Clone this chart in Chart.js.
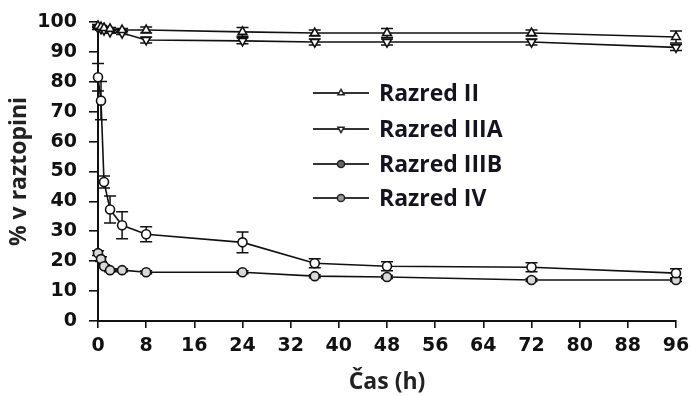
<!DOCTYPE html>
<html>
<head>
<meta charset="utf-8">
<script src="https://cdn.jsdelivr.net/npm/chart.js@4.4.1/dist/chart.umd.min.js"></script>
<style>
  html, body { margin: 0; padding: 0; background: #fff; }
  #wrap { width: 691px; height: 396px; position: relative; }
</style>
</head>
<body>
<div id="wrap"><canvas id="c"></canvas></div>
<script>
// Sampling times (h)
const times = [0, 0.5, 1, 2, 4, 8, 24, 36, 48, 72, 96];

// Percent in solution for each class, with standard deviations
const seriesNames = ['Razred II', 'Razred IIIA', 'Razred IIIB', 'Razred IV'];
const razredII    = [98.7, 98.3, 98.0, 97.7, 97.3, 97.3, 96.7, 96.3, 96.3, 96.3, 95.0];
const razredIIIA  = [98.0, 97.7, 97.3, 96.7, 96.3, 94.0, 93.7, 93.3, 93.3, 93.3, 91.5];
const razredIIIB  = [81.5, 73.7, 46.5, 37.3, 32.0, 29.0, 26.3, 19.3, 18.3, 18.0, 16.0];
const razredIV    = [22.7, 20.7, 18.3, 17.0, 17.0, 16.3, 16.3, 15.0, 14.7, 13.7, 13.7];

const errII   = [0.5, 0.5, 0.5, 0.5, 0.5, 1.0, 1.5, 1.0, 1.5, 1.0, 2.0];
const errIIIA = [0.5, 0.5, 0.5, 0.5, 0.5, 1.0, 1.0, 1.0, 1.0, 1.0, 1.0];
const errIIIB = [4.6, 6.4, 2.0, 4.5, 4.5, 2.5, 3.5, 1.5, 1.5, 1.5, 1.5];
const errIV   = [0.8, 0.8, 0.5, 0.5, 0.5, 0.5, 0.5, 0.5, 0.5, 0.5, 0.5];

// Axis ticks
const xTicks = [0, 8, 16, 24, 32, 40, 48, 56, 64, 72, 80, 88, 96];
const yTicks = [0, 10, 20, 30, 40, 50, 60, 70, 80, 90, 100];

const pts = (vals) => times.map((t, i) => ({ x: t, y: vals[i] }));

const markerStyles = [
  { pointStyle: 'triangle', rotation: 0,   radius: 5, fill: '#ffffff' },
  { pointStyle: 'triangle', rotation: 180, radius: 5, fill: '#ffffff' },
  { pointStyle: 'circle',   rotation: 0,   radius: 4.5, fill: '#ffffff' },
  { pointStyle: 'circle',   rotation: 0,   radius: 4.5, fill: '#d8d8d8' }
];
const allValues = [razredII, razredIIIA, razredIIIB, razredIV];
const allErrors = [errII, errIIIA, errIIIB, errIV];

const datasets = allValues.map((vals, k) => ({
  label: seriesNames[k],
  data: pts(vals),
  errors: allErrors[k],
  borderColor: '#111',
  borderWidth: 1.6,
  pointStyle: markerStyles[k].pointStyle,
  pointRotation: markerStyles[k].rotation,
  pointRadius: markerStyles[k].radius,
  pointBackgroundColor: markerStyles[k].fill,
  pointBorderColor: '#111',
  pointBorderWidth: 1.6,
  tension: 0,
  clip: false
}));

// Vertical error bars with caps, placed through the chart scales
const errorBars = {
  id: 'errorBars',
  beforeDatasetsDraw(chart) {
    const { ctx, scales: { x, y } } = chart;
    ctx.save();
    ctx.strokeStyle = '#111';
    ctx.lineWidth = 1.5;
    chart.data.datasets.forEach(ds => {
      ds.data.forEach((p, i) => {
        const e = ds.errors[i];
        if (!e) return;
        const px = x.getPixelForValue(p.x);
        const top = y.getPixelForValue(p.y + e);
        const bot = y.getPixelForValue(p.y - e);
        ctx.beginPath();
        ctx.moveTo(px, top); ctx.lineTo(px, bot);
        ctx.moveTo(px - 6, top); ctx.lineTo(px + 6, top);
        ctx.moveTo(px - 6, bot); ctx.lineTo(px + 6, bot);
        ctx.stroke();
      });
    });
    ctx.restore();
  }
};

// Legend inside the plot: line sample, marker, bold label
const innerLegend = {
  id: 'innerLegend',
  afterDraw(chart) {
    const { ctx } = chart;
    const rowsY = [93, 129, 164, 198];
    ctx.save();
    chart.data.datasets.forEach((ds, k) => {
      const yy = rowsY[k];
      ctx.strokeStyle = '#333';
      ctx.lineWidth = 2;
      ctx.beginPath();
      ctx.moveTo(313, yy); ctx.lineTo(369, yy);
      ctx.stroke();
      const m = markerStyles[k];
      ctx.fillStyle = k === 2 ? '#666' : (k === 3 ? '#999' : '#fff');
      ctx.strokeStyle = '#222';
      ctx.lineWidth = 1.5;
      Chart.helpers.drawPoint(ctx, {
        pointStyle: m.pointStyle, rotation: m.rotation, radius: 3.6, borderWidth: 1.5
      }, 341, yy);
      ctx.fillStyle = '#15131f';
      ctx.font = 'bold 23px "Open Sans"';
      ctx.textBaseline = 'middle';
      ctx.textAlign = 'left';
      ctx.fillText(ds.label, 379, yy + 1);
    });
    ctx.restore();
  }
};

new Chart(document.getElementById('c'), {
  type: 'line',
  data: { datasets },
  options: {
    responsive: true,
    maintainAspectRatio: false,
    animation: false,
    layout: { padding: { left: 0, top: 22, right: 15, bottom: 0 } },
    plugins: { legend: { display: false }, tooltip: { enabled: false } },
    scales: {
      x: {
        type: 'linear',
        min: 0, max: 96,
        afterFit(s) { s.height = 75; s.paddingLeft = 0; s.paddingRight = 0; },
        afterBuildTicks(s) { s.ticks = xTicks.map(v => ({ value: v })); },
        border: { color: '#111', width: 2 },
        grid: { drawOnChartArea: false, color: '#111', lineWidth: 1.6, tickLength: 7 },
        ticks: {
          color: '#111', padding: 7,
          font: { family: '"DejaVu Sans"', weight: 'bold', size: 19 }
        },
        title: {
          display: true, text: 'Čas (h)', color: '#222',
          font: { family: '"Open Sans"', weight: 'bold', size: 23 },
          padding: { top: 0, bottom: 0 }
        }
      },
      y: {
        min: 0, max: 100,
        afterFit(s) { s.width = 98; s.paddingTop = 0; s.paddingBottom = 0; },
        afterBuildTicks(s) { s.ticks = yTicks.map(v => ({ value: v })); },
        border: { color: '#111', width: 2 },
        grid: { drawOnChartArea: false, color: '#111', lineWidth: 1.6, tickLength: 9 },
        ticks: {
          color: '#111', padding: 12,
          font: { family: '"DejaVu Sans"', weight: 'bold', size: 19 }
        },
        title: {
          display: true, text: '% v raztopini', color: '#222',
          font: { family: '"Open Sans"', weight: 'bold', size: 23 },
          padding: { top: 6, bottom: 0 }
        }
      }
    }
  },
  plugins: [errorBars, innerLegend]
});
</script>
</body>
</html>
